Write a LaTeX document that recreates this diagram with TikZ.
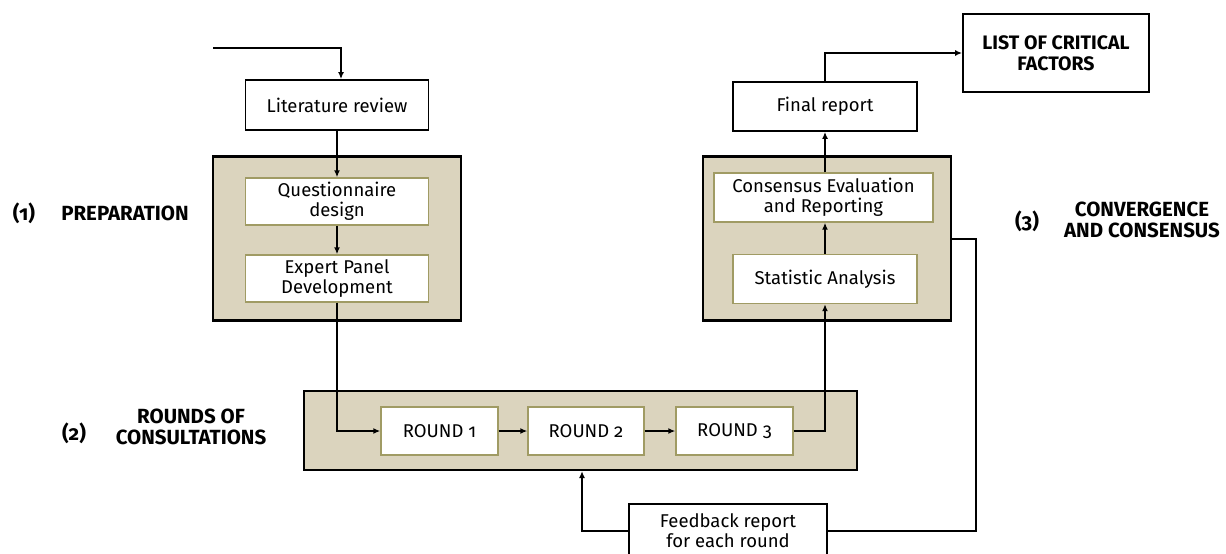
\documentclass[tikz,border=0pt]{standalone}
\usepackage{fontspec}
\setmainfont{Fira Sans}[Numbers=OldStyle]
\usetikzlibrary{arrows.meta}
\definecolor{tanfill}{RGB}{219,212,190}
\definecolor{olivebd}{RGB}{160,155,100}
\begin{document}
\begin{tikzpicture}[x=1pt,y=-1pt,
 box/.style={draw=black,line width=1.8pt,fill=white,inner sep=0pt,align=center,font=\fontsize{18.5}{20}\selectfont},
 sub/.style={draw=olivebd,line width=1.4pt,fill=white,inner sep=0pt,align=center,font=\fontsize{18.5}{20}\selectfont},
 group/.style={draw=black,line width=2.2pt,fill=tanfill,inner sep=0pt},
 lab/.style={align=center,font=\bfseries\fontsize{20.5}{21}\selectfont,inner sep=0pt},
 conn/.style={line width=2pt,-{Latex[length=7pt,width=6pt]}},
 wire/.style={line width=2pt}
]
\useasboundingbox (0,0) rectangle (1226,554);
% group panels
\node[group,minimum width=248pt,minimum height=164pt] (prep) at (337,238.5) {};
\node[group,minimum width=248pt,minimum height=164pt] (conv) at (827,238.5) {};
\node[group,minimum width=553pt,minimum height=79pt] (rounds) at (580.5,430.5) {};
% boxes
\node[box,minimum width=183pt,minimum height=50pt] (lit) at (337,105) {Literature review};
\node[sub,minimum width=183pt,minimum height=47pt] (q) at (337,201.5) {Questionnaire\\design};
\node[sub,minimum width=183pt,minimum height=47pt] (e) at (337,278.5) {Expert Panel\\Development};
\node[sub,minimum width=117pt,minimum height=48pt] (r1) at (439.5,431) {ROUND 1};
\node[sub,minimum width=116pt,minimum height=48pt] (r2) at (586,431) {ROUND 2};
\node[sub,minimum width=117pt,minimum height=48pt] (r3) at (734.5,431) {ROUND 3};
\node[box,minimum width=184pt,minimum height=49pt] (final) at (825,106.5) {Final report};
\node[box,minimum width=186pt,minimum height=78pt,font=\bfseries\fontsize{19.5}{21}\selectfont] (list) at (1056,53) {LIST OF CRITICAL\\FACTORS};
\node[sub,minimum width=219pt,minimum height=49pt] (cons) at (823.5,197.5) {Consensus Evaluation\\and Reporting};
\node[sub,minimum width=184pt,minimum height=49pt] (stat) at (825,279) {Statistic Analysis};
\node[box,minimum width=198pt,minimum height=54pt] (feed) at (728,531) {Feedback report\\for each round};
% labels
\node[lab] (l1n) at (24,213) {(1)};
\node[lab] (l1) at (125,213) {PREPARATION};
\node[lab] (l2n) at (74,433) {(2)};
\node[lab] (l2) at (191,427) {ROUNDS OF\\CONSULTATIONS};
\node[lab] (l3n) at (1027,221) {(3)};
\node[lab] (l3) at (1142,220) {CONVERGENCE\\AND CONSENSUS};
% connectors
\coordinate (start) at (213,48);
\draw[conn] (start) -| ([xshift=4pt]lit.north);
\draw[conn] (lit.south) -- (q.north);
\draw[conn] (q.south) -- (e.north);
\draw[conn] (e.south) |- (r1.west);
\draw[conn] (r1.east) -- (r2.west);
\draw[conn] (r2.east) -- (r3.west);
\draw[conn] (r3.east) -| (stat.south);
\draw[conn] (stat.north) -- (stat.north |- cons.south);
\draw[conn] (final.south |- cons.north) -- (final.south);
\draw[conn] (final.north) |- (list.west);
\draw[wire] (conv.east) -- ++(24,0) |- (feed.east);
\draw[conn] (feed.west) -| ([xshift=1.5pt]rounds.south);
\end{tikzpicture}
\end{document}
